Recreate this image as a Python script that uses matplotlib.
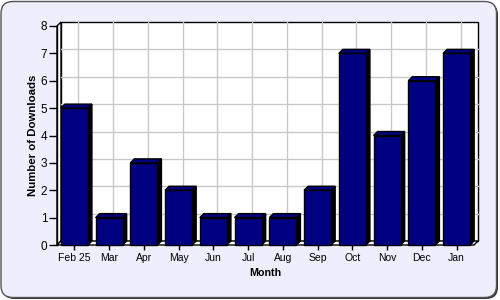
import matplotlib
matplotlib.use("Agg")
import matplotlib.pyplot as plt
import matplotlib.transforms as mtransforms
from matplotlib.patches import FancyBboxPatch, Rectangle, Polygon

months = ["Feb 25", "Mar", "Apr", "May", "Jun", "Jul", "Aug", "Sep", "Oct", "Nov", "Dec", "Jan"]
downloads = [5, 1, 3, 2, 1, 1, 1, 2, 7, 4, 6, 7]
y_ticks = [0, 1, 2, 3, 4, 5, 6, 7, 8]

plt.rcParams['font.family'] = ['Liberation Sans', 'DejaVu Sans']

W, H = 500, 300
fig = plt.figure(figsize=(W / 100, H / 100), dpi=100)
fig.patch.set_facecolor("white")

# rounded background panel with a little shadow
px = fig.dpi_scale_trans
shadow = FancyBboxPatch((0.025, 0.01), 4.955, 2.96, boxstyle="round,pad=0,rounding_size=0.12",
                        transform=px, facecolor="#333333", edgecolor="none", zorder=-2)
panel = FancyBboxPatch((0.01, 0.025), 4.955, 2.96, boxstyle="round,pad=0,rounding_size=0.12",
                       transform=px, facecolor="#eeeefc", edgecolor="#555555", linewidth=1, zorder=-1)
fig.patches.extend([shadow, panel])

# front plane of the plot (pixels: left 57, right 474, top 26, bottom 245)
left, right, top, bottom = 57, 474, 26, 245
ax = fig.add_axes([left / W, 1 - bottom / H, (right - left) / W, (bottom - top) / H])
ax.set_xlim(-0.5, len(months) - 0.5)
ax.set_ylim(0, 8)
ax.set_facecolor("none")
for s in ax.spines.values():
    s.set_visible(False)

depth = 4  # px
dx = depth / ((right - left) / len(months))
dy = depth / ((bottom - top) / 8)
back = ax.transData + mtransforms.ScaledTranslation(depth / 100, depth / 100, px)

x0, x1 = -0.5, len(months) - 0.5
# back wall with grid
ax.add_patch(Rectangle((x0, 0), x1 - x0, 8, transform=back, facecolor="white",
                       edgecolor="black", linewidth=1, clip_on=False, zorder=1))
for y in y_ticks[1:-1]:
    ax.plot([x0, x1], [y, y], transform=back, color="#c8c8c8", lw=1, clip_on=False, zorder=1.5)
for i in range(len(months)):
    ax.plot([i, i], [0, 8], transform=back, color="#c8c8c8", lw=1, clip_on=False, zorder=1.5)

# left wall and floor
ax.add_patch(Polygon([(x0, 0), (x0 + dx, dy), (x0 + dx, 8 + dy), (x0, 8)], closed=True,
                     facecolor="white", edgecolor="black", lw=1, clip_on=False, zorder=1.2))
ax.add_patch(Polygon([(x0, 0), (x1, 0), (x1 + dx, dy), (x0 + dx, dy)], closed=True,
                     facecolor="white", edgecolor="black", lw=1, clip_on=False, zorder=1.2))

# 3d bars
bw = 0.78
for i, v in enumerate(downloads):
    a, b = i - bw / 2, i + bw / 2
    ax.add_patch(Polygon([(b, 0), (b + dx, dy), (b + dx, v + dy), (b, v)], closed=True,
                         facecolor="black", edgecolor="black", lw=1, clip_on=False, zorder=3))
    ax.add_patch(Polygon([(a, v), (b, v), (b + dx, v + dy), (a + dx, v + dy)], closed=True,
                         facecolor="#000080", edgecolor="black", lw=1, clip_on=False, zorder=3))
    ax.add_patch(Rectangle((a, 0), bw, v, facecolor="#000080", edgecolor="black",
                           lw=1, clip_on=False, zorder=4))

ax.set_xticks(range(len(months)))
ax.set_xticklabels(months, fontsize=7.5)
ax.set_yticks(y_ticks)
ax.set_yticklabels([str(t) for t in y_ticks], fontsize=8.5)
ax.tick_params(axis="y", length=6, width=1, color="black", pad=1)
ax.tick_params(axis="x", length=3.5, width=1, color="black", pad=2.5)
ax.grid(False)
ax.plot([x0, x0], [0, 8], color="black", lw=1, clip_on=False, zorder=5)

ax.set_xlabel("Month", fontsize=7.7, fontweight="bold", labelpad=3)
ax.set_ylabel("Number of Downloads", fontsize=8.2, fontweight="bold", labelpad=2)

fig.savefig("out.png", dpi=100, facecolor=fig.get_facecolor())
